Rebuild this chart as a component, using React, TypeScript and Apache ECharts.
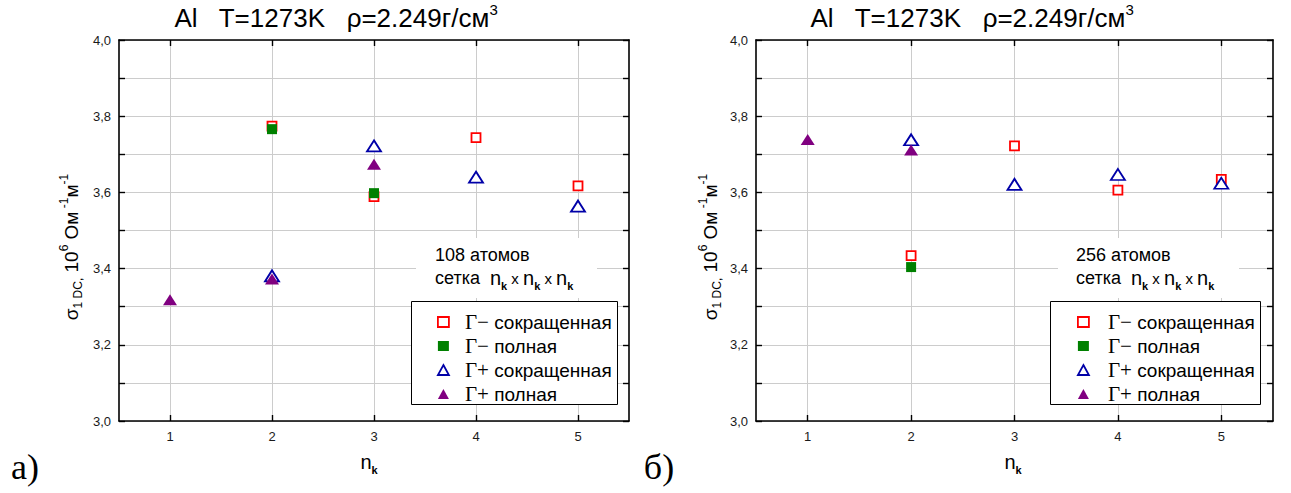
import React, { useEffect, useRef } from 'react';
import * as echarts from 'echarts';

// ---------- data ----------
const nkValues = [1, 2, 3, 4, 5];
const seriesNames = ['Γ− сокращенная', 'Γ− полная', 'Γ+ сокращенная', 'Γ+ полная'];
const panelTitles = ['Al   T=1273K   ρ=2.249г/см', 'Al   T=1273K   ρ=2.249г/см'];
const panelAtoms = ['108 атомов', '256 атомов'];
const panelLetters = ['а)', 'б)'];

// panel а) — 108 atoms: [n_k, sigma]
const aGmShort = [[2, 3.774], [3, 3.589], [4, 3.744], [5, 3.617]];
const aGmFull = [[2, 3.766], [3, 3.598]];
const aGpShort = [[2, 3.381], [3, 3.722], [4, 3.640], [5, 3.564]];
const aGpFull = [[1, 3.318], [2, 3.373], [3, 3.674]];

// panel б) — 256 atoms
const bGmShort = [[2, 3.434], [3, 3.722], [4, 3.606], [5, 3.634]];
const bGmFull = [[2, 3.404]];
const bGpShort = [[2, 3.738], [3, 3.621], [4, 3.647], [5, 3.624]];
const bGpFull = [[1, 3.739], [2, 3.711]];

const yMin = 3.0;
const yMax = 4.0;
const yStep = 0.1;

const SANS = '"Liberation Sans", Arial, sans-serif';
const SERIF = '"Liberation Serif", "Times New Roman", serif';

const RED = '#ff0000';
const GREEN = '#008000';
const BLUE = '#0000a8';
const PURPLE = '#800080';

const markerStyles = [
  { symbol: 'rect', symbolSize: 9, itemStyle: { color: '#ffffff', borderColor: RED, borderWidth: 1.8, opacity: 1 } },
  { symbol: 'rect', symbolSize: 10, itemStyle: { color: GREEN, borderColor: GREEN, borderWidth: 0, opacity: 1 } },
  { symbol: 'triangle', symbolSize: [14, 11], itemStyle: { color: '#ffffff', borderColor: BLUE, borderWidth: 1.8, opacity: 1 } },
  { symbol: 'triangle', symbolSize: [14, 11], itemStyle: { color: PURPLE, borderColor: PURPLE, borderWidth: 0, opacity: 1 } },
];

const panelData = [
  [aGmShort, aGmFull, aGpShort, aGpFull],
  [bGmShort, bGmFull, bGpShort, bGpFull],
];

// layout
const grids = [
  { left: 119, top: 40, width: 510, height: 381 },
  { left: 756, top: 40, width: 517, height: 381 },
];

export default function App() {
  const ref = useRef<HTMLDivElement>(null);
  useEffect(() => {
    document.body.style.margin = '0';
    const chart = echarts.init(ref.current!, null, { renderer: 'svg' });

    const xAxes: any[] = [];
    const yAxes: any[] = [];
    grids.forEach((_, gi) => {
      ['bottom', 'top'].forEach((pos) => {
        xAxes.push({
          type: 'value',
          gridIndex: gi,
          position: pos,
          min: 0.5,
          max: 5.5,
          axisLine: { show: true, onZero: false, lineStyle: { color: '#000', width: 1.6 } },
          axisTick: { show: true, inside: true, length: 6, customValues: nkValues, lineStyle: { color: '#000', width: 1.4 } },
          axisLabel: {
            show: pos === 'bottom',
            customValues: nkValues,
            color: '#1a1a1a',
            fontFamily: SANS,
            fontSize: 13,
            margin: 9,
          },
          splitLine: { show: pos === 'bottom', lineStyle: { color: '#cccccc', width: 1 } },
        });
      });
      ['left', 'right'].forEach((pos) => {
        yAxes.push({
          type: 'value',
          gridIndex: gi,
          position: pos,
          min: yMin,
          max: yMax,
          interval: yStep,
          axisLine: { show: true, onZero: false, lineStyle: { color: '#000', width: 1.6 } },
          axisTick: { show: true, inside: true, length: 6, lineStyle: { color: '#000', width: 1.4 } },
          axisLabel: {
            show: pos === 'left',
            color: '#1a1a1a',
            fontFamily: SANS,
            fontSize: 13,
            margin: 8,
            formatter: (v: number) => {
              const k = Math.round(v * 10);
              return k % 2 === 0 ? (k / 10).toFixed(1).replace('.', ',') : '';
            },
          },
          splitLine: { show: pos === 'left', lineStyle: { color: '#cccccc', width: 1 } },
        });
      });
    });

    const series: any[] = [];
    panelData.forEach((sets, gi) => {
      sets.forEach((d, si) => {
        series.push({
          type: 'scatter',
          name: seriesNames[si],
          xAxisIndex: gi * 2,
          yAxisIndex: gi * 2,
          data: d,
          ...markerStyles[si],
          emphasis: { disabled: true },
          z: 3,
        });
      });
    });

    const legendRich = {
      g: { fontFamily: SERIF, fontSize: 21, color: '#000', lineHeight: 24 },
      t: { fontFamily: SANS, fontSize: 19, color: '#000', lineHeight: 24 },
    };
    const legendPos = [
      { left: 437, top: 310, pad: 11 },
      { left: 1077, top: 310, pad: 14 },
    ];
    const legends = legendPos.map((lp) => ({
      orient: 'vertical',
      left: lp.left,
      top: lp.top,
      padding: 0,
      itemGap: 0,
      itemWidth: 11,
      itemHeight: 10,
      z: 20,
      selectedMode: false,
      data: seriesNames.map((n, i) => ({
        name: n,
        icon: markerStyles[i].symbol,
        itemStyle: { ...markerStyles[i].itemStyle },
      })),
      formatter: (name: string) => `{g|${name.slice(0, 2)}}{t|${name.slice(2)}}`,
      textStyle: { fontSize: 19, lineHeight: 24, padding: [0, 0, 0, lp.pad], rich: legendRich },
    }));

    const titleRich = {
      m: { fontFamily: SANS, fontSize: 26, color: '#000', lineHeight: 32, verticalAlign: 'middle' },
      sup: { fontFamily: SANS, fontSize: 15, color: '#000', lineHeight: 14, verticalAlign: 'top' },
    };
    const yNameRich = {
      m: { fontFamily: SANS, fontSize: 19, color: '#000', lineHeight: 26, verticalAlign: 'middle' },
      sup: { fontFamily: SANS, fontSize: 12, color: '#000', lineHeight: 11, verticalAlign: 'top' },
      sub: { fontFamily: SANS, fontSize: 12, color: '#000', lineHeight: 11, verticalAlign: 'bottom' },
    };
    const nkRich = {
      n: { fontFamily: SANS, fontSize: 20, color: '#000', lineHeight: 26, verticalAlign: 'middle' },
      k: { fontFamily: SANS, fontSize: 11, fontWeight: 'bold', color: '#000', lineHeight: 10, verticalAlign: 'bottom' },
      x: { fontFamily: SANS, fontSize: 15, color: '#000', lineHeight: 26, verticalAlign: 'middle' },
      t: { fontFamily: SANS, fontSize: 18, color: '#000', lineHeight: 26, verticalAlign: 'middle' },
    };

    const graphics: any[] = [];
    const geo = [
      { titleX: 336, yNameX: 71, nkX: 369, letterX: 25, boxX: 416, boxW: 181, atX: 435, legX: 411, legW: 206 },
      { titleX: 972, yNameX: 710, nkX: 1013, letterX: 659, boxX: 1058, boxW: 181, atX: 1076, legX: 1050, legW: 210 },
    ];
    geo.forEach((g, gi) => {
      graphics.push(
        {
          type: 'text', x: g.titleX, y: 18, z: 30,
          style: { text: `{m|${panelTitles[gi]}}{sup|3}`, rich: titleRich, textAlign: 'center', textVerticalAlign: 'middle' },
        },
        {
          type: 'text', x: g.yNameX, y: 247, rotation: Math.PI / 2, z: 30,
          style: {
            text: '{m|σ}{sub|1 DC,}{m| 10}{sup|6}{m| Ом}{sup| -1}{m|м}{sup|-1}',
            rich: yNameRich, textAlign: 'center', textVerticalAlign: 'middle',
          },
        },
        {
          type: 'text', x: g.nkX, y: 462, z: 30,
          style: { text: '{n|n}{k|k}', rich: nkRich, textAlign: 'center', textVerticalAlign: 'middle' },
        },
        {
          type: 'text', x: g.letterX, y: 467, z: 30,
          style: { text: panelLetters[gi], fontFamily: SERIF, fontSize: 36, fill: '#000', textAlign: 'center', textVerticalAlign: 'middle' },
        },
        {
          type: 'rect', z: 10,
          shape: { x: g.boxX, y: 238, width: g.boxW, height: 60 },
          style: { fill: '#ffffff', stroke: null },
        },
        {
          type: 'text', x: g.atX, y: 255, z: 11,
          style: { text: panelAtoms[gi], fontFamily: SANS, fontSize: 18, fill: '#000', textAlign: 'left', textVerticalAlign: 'middle' },
        },
        {
          type: 'text', x: g.atX, y: 278, z: 11,
          style: {
            text: '{t|сетка  }{n|n}{k|k}{x| x }{n|n}{k|k}{x| x }{n|n}{k|k}',
            rich: nkRich, textAlign: 'left', textVerticalAlign: 'middle',
          },
        },
        {
          type: 'rect', z: 12,
          shape: { x: g.legX + 0.5, y: 301.5, width: g.legW, height: 103 },
          style: { fill: '#ffffff', stroke: '#000', lineWidth: 1 },
        }
      );
    });

    chart.setOption({
      animation: false,
      backgroundColor: '#ffffff',
      grid: grids,
      xAxis: xAxes,
      yAxis: yAxes,
      legend: legends,
      series,
      graphic: graphics,
    });
    return () => chart.dispose();
  }, []);
  return <div ref={ref} style={{ width: 1291, height: 493 }} />;
}
